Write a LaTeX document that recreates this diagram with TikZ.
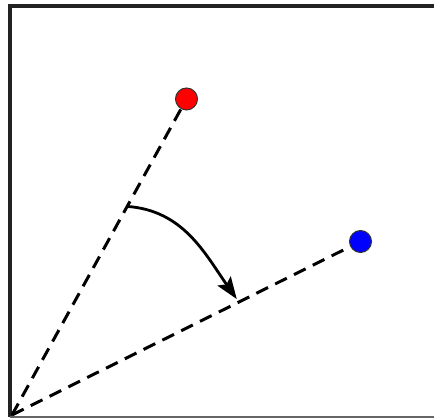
\documentclass[tikz,border=0pt]{standalone}
\definecolor{dRed}{HTML}{FF0000}
\definecolor{dBlue}{HTML}{0000FF}
\definecolor{dFrame}{HTML}{222222}
\usepackage{tikz}
\usetikzlibrary{arrows.meta, calc}

\tikzset{
  dot/.style={circle, inner sep=0pt, minimum size=22pt, draw=black!80, line width=1pt},
  ray/.style={dashed, dash pattern=on 13pt off 8pt, line width=3pt},
}

\begin{document}
\begin{tikzpicture}[x=1pt, y=1pt]
  \useasboundingbox (0,0) rectangle (434,419);
  % open frame
  \draw[dFrame, line width=3.2pt] (434,413) -- (10,413) -- (10,2);
  \draw[black!60, line width=2pt] (10,2) -- (434,2);
  % origin and the two points
  \coordinate (O) at (12,4);
  \node[dot, fill=dRed] (red) at (186.5,320) {};
  \node[dot, fill=dBlue] (blue) at (360.5,177.5) {};
  % rays
  \draw[ray] (O) -- (red);
  \draw[ray] (O) -- (blue);
  % rotation arrow
  \coordinate (start) at ($(O)!0.66!(red.center)$);
  \coordinate (tip) at ($(O)!0.645!(blue.center)+(0,4)$);
  \draw[line width=2.8pt, -{Stealth[length=22pt, width=16pt, inset=4pt]}]
    (start) to[out=-4, in=125] (tip);
\end{tikzpicture}
\end{document}
